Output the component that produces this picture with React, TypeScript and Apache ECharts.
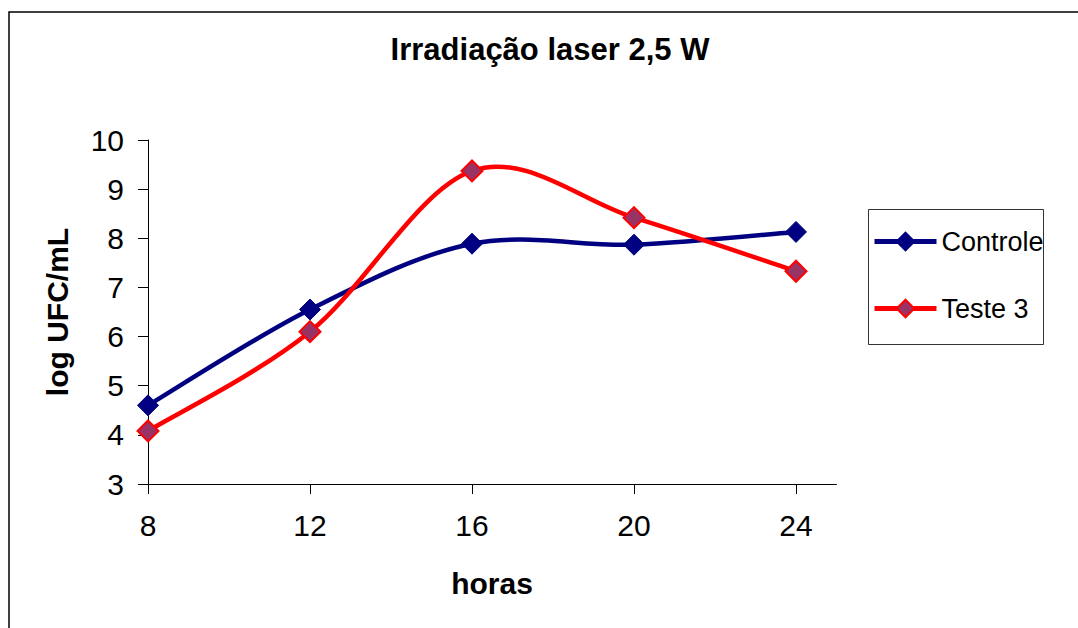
import React, { useEffect, useRef } from "react";
import * as echarts from "echarts";

const hours = [8, 12, 16, 20, 24];
const controle = [4.6, 6.55, 7.89, 7.87, 8.13];
const teste3 = [4.08, 6.1, 9.37, 8.42, 7.33];
const xTicks = [8, 12, 16, 20, 24];

const FONT = "'Liberation Sans', Arial, sans-serif";
const BLUE = "#000080";
const RED = "#ff0000";

function smoothCurve(values: number[], color: string) {
  return (params: any, api: any) => {
    if (params.dataIndex !== 0) return null;
    const pts = hours.map((h, i) => api.coord([h, values[i]]));
    const n = pts.length;
    let d = `M${pts[0][0]},${pts[0][1]}`;
    for (let i = 0; i < n - 1; i++) {
      const p0 = pts[Math.max(i - 1, 0)];
      const p1 = pts[i];
      const p2 = pts[i + 1];
      const p3 = pts[Math.min(i + 2, n - 1)];
      const c1x = p1[0] + (p2[0] - p0[0]) / 6;
      const c1y = p1[1] + (p2[1] - p0[1]) / 6;
      const c2x = p2[0] - (p3[0] - p1[0]) / 6;
      const c2y = p2[1] - (p3[1] - p1[1]) / 6;
      d += ` C${c1x},${c1y} ${c2x},${c2y} ${p2[0]},${p2[1]}`;
    }
    return {
      type: "path",
      shape: { pathData: d },
      style: { fill: "none", stroke: color, lineWidth: 4.5, lineJoin: "round" },
    };
  };
}

export default function App() {
  const ref = useRef<HTMLDivElement>(null);
  useEffect(() => {
    if (!ref.current) return;
    const chart = echarts.init(ref.current, null, { renderer: "svg" });
    chart.setOption({
      animation: false,
      backgroundColor: "#ffffff",
      textStyle: { fontFamily: FONT, color: "#000" },
      grid: { left: 148, right: 241.5, top: 140, bottom: 144, containLabel: false },
      xAxis: {
        type: "value",
        min: 8,
        max: 25,
        interval: 4,
        axisLine: { show: true, onZero: false, lineStyle: { color: "#000", width: 1 } },
        axisTick: { show: true, length: 10, customValues: xTicks, lineStyle: { color: "#000" } },
        axisLabel: { customValues: xTicks, fontSize: 30, color: "#000", margin: 26, fontFamily: FONT },
        splitLine: { show: false },
      },
      yAxis: {
        type: "value",
        min: 3,
        max: 10,
        interval: 1,
        axisLine: { show: true, lineStyle: { color: "#000", width: 1 } },
        axisTick: { show: true, length: 10, lineStyle: { color: "#000" } },
        axisLabel: { fontSize: 30, color: "#000", margin: 24, fontFamily: FONT },
        splitLine: { show: false },
      },
      legend: {
        orient: "vertical",
        left: 872,
        top: 228,
        padding: 0,
        itemWidth: 62,
        itemHeight: 22,
        itemGap: 40,
        textStyle: { fontSize: 27, color: "#000", fontFamily: FONT },
        data: [
          { name: "Controle", lineStyle: { color: BLUE, width: 5, opacity: 1 } },
          { name: "Teste 3", lineStyle: { color: RED, width: 5, opacity: 1 } },
        ],
      },
      graphic: [
        {
          type: "rect",
          shape: { x: 9, y: 12, width: 1200, height: 800 },
          style: { fill: "none", stroke: "#000", lineWidth: 1.5 },
          silent: true,
          z: -1,
        },
        {
          type: "rect",
          shape: { x: 868.5, y: 209.5, width: 175, height: 135 },
          style: { fill: "none", stroke: "#333", lineWidth: 1 },
          silent: true,
        },
        {
          type: "text",
          x: 550,
          y: 49,
          style: {
            text: "Irradiação laser 2,5 W",
            font: "bold 31px " + FONT,
            fill: "#000",
            textAlign: "center",
            textVerticalAlign: "middle",
          },
        },
        {
          type: "text",
          x: 57,
          y: 312,
          rotation: Math.PI / 2,
          style: {
            text: "log UFC/mL",
            font: "bold 30px " + FONT,
            fill: "#000",
            textAlign: "center",
            textVerticalAlign: "middle",
          },
        },
        {
          type: "text",
          x: 492,
          y: 583,
          style: {
            text: "horas",
            font: "bold 30px " + FONT,
            fill: "#000",
            textAlign: "center",
            textVerticalAlign: "middle",
          },
        },
      ],
      series: [
        {
          name: "Controle",
          type: "line",
          data: hours.map((h, i) => [h, controle[i]]),
          symbol: "diamond",
          symbolSize: 21,
          lineStyle: { color: BLUE, width: 4.5, opacity: 0 },
          itemStyle: { color: BLUE, borderColor: BLUE, borderWidth: 1 },
          z: 3,
        },
        {
          name: "Teste 3",
          type: "line",
          data: hours.map((h, i) => [h, teste3[i]]),
          symbol: "diamond",
          symbolSize: 21,
          lineStyle: { color: RED, width: 4.5, opacity: 0 },
          itemStyle: { color: "#993366", borderColor: RED, borderWidth: 2 },
          z: 3,
        },
        {
          name: "Controle",
          type: "custom",
          silent: true,
          z: 1,
          encode: { x: 0, y: 1 },
          data: hours.map((h, i) => [h, controle[i]]),
          renderItem: smoothCurve(controle, BLUE),
        },
        {
          name: "Teste 3",
          type: "custom",
          silent: true,
          z: 1,
          encode: { x: 0, y: 1 },
          data: hours.map((h, i) => [h, teste3[i]]),
          renderItem: smoothCurve(teste3, RED),
        },
      ],
    });
    return () => chart.dispose();
  }, []);
  return (
    <div
      ref={ref}
      style={{ position: "absolute", left: 0, top: 0, width: 1078, height: 628 }}
    />
  );
}
